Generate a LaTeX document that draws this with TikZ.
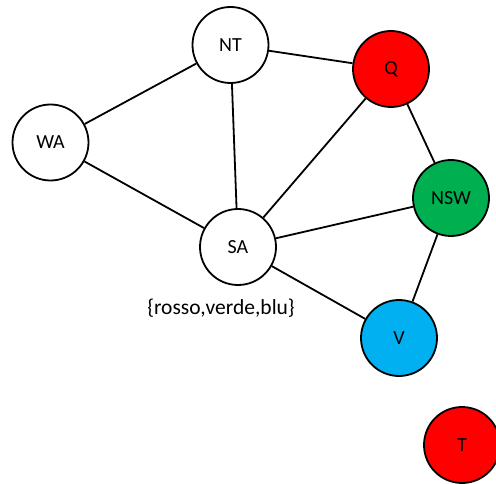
\documentclass[tikz,border=0pt]{standalone}
\usepackage{fontspec}
\setmainfont{Carlito}
\definecolor{offred}{HTML}{FF0000}
\definecolor{offgreen}{HTML}{00B050}
\definecolor{offblue}{HTML}{00B0F0}
\begin{document}
\begin{tikzpicture}[x=1pt,y=-1pt,
  region/.style={circle,draw=black,line width=1.8pt,minimum size=76pt,inner sep=0pt,fill=white,font=\fontsize{20}{22}\selectfont},
  link/.style={line width=1.8pt}]
\useasboundingbox (0,0) rectangle (496,484);
\node[region] (NT) at (230.5,45) {NT};
\node[region] (WA) at (50.5,142.5) {WA};
\node[region,fill=offred] (Q) at (391,69) {Q};
\node[region,fill=offgreen] (NSW) at (451,198) {NSW};
\node[region] (SA) at (238,247) {SA};
\node[region,fill=offblue] (V) at (399,338) {V};
\node[region,fill=offred] (T) at (462,445) {T};
\node[font=\fontsize{21.5}{24}\selectfont] (dom) at (221,308) {\{rosso,verde,blu\}};
\draw[link] (WA) -- (NT);
\draw[link] (WA) -- (SA);
\draw[link] (NT) -- (SA);
\draw[link] (NT) -- (Q);
\draw[link] (SA) -- (Q);
\draw[link] (SA) -- (NSW);
\draw[link] (SA) -- (V);
\draw[link] (Q) -- (NSW);
\draw[link] (NSW) -- (V);
\end{tikzpicture}
\end{document}
